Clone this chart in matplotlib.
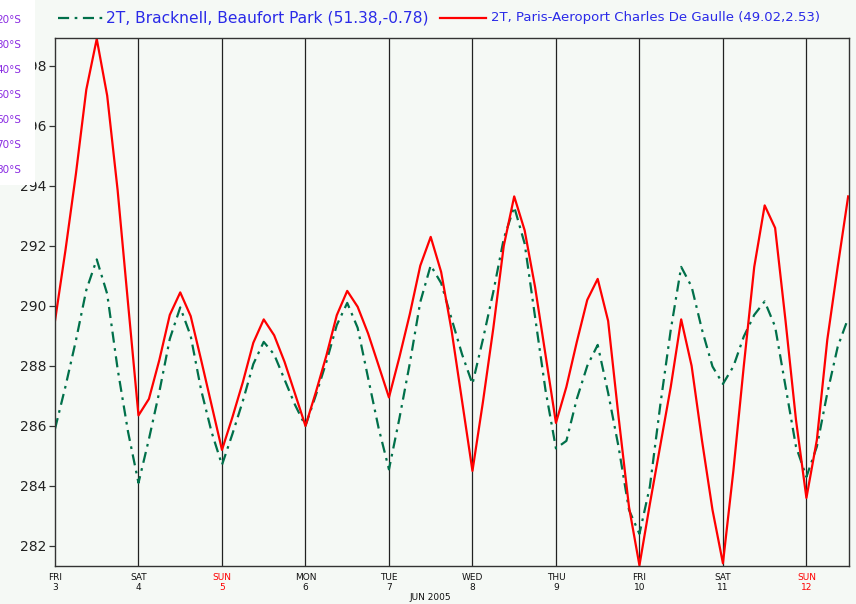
import numpy as np
import matplotlib
matplotlib.use('Agg')
import matplotlib.pyplot as plt
from matplotlib.lines import Line2D
from matplotlib.patches import Rectangle

# 3-hourly 2m temperature (K), 3 Jun 00Z .. 12 Jun 12Z 2005
bracknell = [
    285.9, 287.31, 288.84, 290.53, 291.55, 290.4, 287.9, 285.8,
    284.1, 285.56, 287.14, 288.9, 289.95, 289.0, 287.2, 285.8,
    284.7, 285.73, 286.83, 288.06, 288.8, 288.38, 287.54, 286.7,
    286.0, 287.03, 288.13, 289.36, 290.1, 289.27, 287.6, 285.94,
    284.55, 286.25, 288.09, 290.13, 291.35, 290.76, 289.57, 288.39,
    287.4, 288.88, 290.47, 292.24, 293.3, 292.08, 289.63, 287.19,
    285.25, 285.5, 286.9, 288.0, 288.7, 287.1, 285.3, 283.2,
    282.4, 283.98, 286.7, 289.2, 291.3, 290.64, 289.2, 287.98,
    287.4, 287.98, 288.98, 289.7, 290.15, 289.31, 287.31, 285.31,
    284.3, 285.31, 287.09, 288.64, 289.59,
]
paris = [
    289.5, 291.85, 294.39, 297.21, 298.9, 297.01, 293.86, 290.08,
    286.35, 286.9, 288.2, 289.7, 290.45, 289.66, 288.2, 286.7,
    285.2, 286.29, 287.46, 288.77, 289.55, 289.02, 288.13, 287.07,
    286.0, 287.13, 288.34, 289.69, 290.5, 289.97, 289.08, 288.02,
    286.95, 288.29, 289.73, 291.34, 292.3, 291.13, 289.18, 286.84,
    284.5, 286.79, 289.26, 292.0, 293.65, 292.52, 290.63, 288.37,
    286.1, 287.3, 288.8, 290.2, 290.9, 289.5, 286.3, 283.3,
    281.35, 283.4, 285.35, 287.3, 289.55, 288.0, 285.5, 283.2,
    281.42, 284.5, 288.0, 291.3, 293.35, 292.6, 289.5, 286.2,
    283.6, 285.53, 288.87, 291.31, 293.65,
]
days = [3, 4, 5, 6, 7, 8, 9, 10, 11, 12]
weekdays = ['FRI', 'SAT', 'SUN', 'MON', 'TUE', 'WED', 'THU', 'FRI', 'SAT', 'SUN']
yticks = [282, 284, 286, 288, 290, 292, 294, 296, 298]
lat_labels = ['20°S', '30°S', '40°S', '50°S', '60°S', '70°S', '80°S']

label_bracknell = '2T, Bracknell, Beaufort Park (51.38,-0.78)'
label_paris = '2T, Paris-Aeroport Charles De Gaulle (49.02,2.53)'

bg = '#f5f9f5'
green = '#00704a'
blue = '#2a2ae8'
dashdot = (5, 2.5, 1.2, 2.5)

t = 3 + np.arange(len(paris)) * 0.125

W, H = 856, 604
fig = plt.figure(figsize=(W / 100, H / 100), dpi=100, facecolor=bg)
ax = fig.add_axes([55 / W, 1 - 566 / H, (849 - 55) / W, (566 - 38) / H])
ax.set_facecolor(bg)

ax.plot(t, bracknell, color=green, lw=1.6, dashes=dashdot)
ax.plot(t, paris, color='#ff0000', lw=1.6)

ax.set_xlim(3, 12.51)
ax.set_ylim(281.33, 298.93)

ax.set_yticks(yticks)
ax.set_yticklabels([str(v) for v in yticks], fontsize=10, color='#222222')
ax.tick_params(axis='y', length=4, width=0.9, color='#333333', pad=2)

ax.set_xticks(days)
ax.set_xticklabels([f'{w}\n{d}' for w, d in zip(weekdays, days)],
                   fontsize=6.5, linespacing=1.15)
ax.tick_params(axis='x', length=0, pad=5)
for lab, w in zip(ax.get_xticklabels(), weekdays):
    lab.set_color('#ff0000' if w == 'SUN' else '#111111')

for d in days[1:]:
    ax.axvline(d, color='#222222', lw=0.9, zorder=0.5)

for s in ax.spines.values():
    s.set_color('#333333')
    s.set_linewidth(1.0)

fig.text(430 / W, 1 - 597 / H, 'JUN 2005', fontsize=6.5, ha='center', va='center', color='#111111')

# legend across the top
ly = 1 - 18 / H
fig.add_artist(Line2D([58 / W, 103 / W], [ly, ly], color=green, lw=1.6, dashes=dashdot))
fig.text(106 / W, ly, label_bracknell, fontsize=11.2, color=blue, va='center', ha='left')
fig.add_artist(Line2D([440 / W, 486 / W], [ly, ly], color='#ff0000', lw=1.6))
fig.text(491 / W, ly, label_paris, fontsize=9.5, color=blue, va='center', ha='left')

# leftover white strip with clipped latitude labels
fig.add_artist(Rectangle((0, 1 - 185 / H), 35 / W, 185 / H, transform=fig.transFigure,
                         facecolor='white', edgecolor='none', zorder=5))
for i, s in enumerate(lat_labels):
    fig.text(21 / W, 1 - (20 + 25 * i) / H, s, fontsize=7.5, color='#8a2be2',
             ha='right', va='center', zorder=6)

fig.savefig('out.png', dpi=100, facecolor=bg)
